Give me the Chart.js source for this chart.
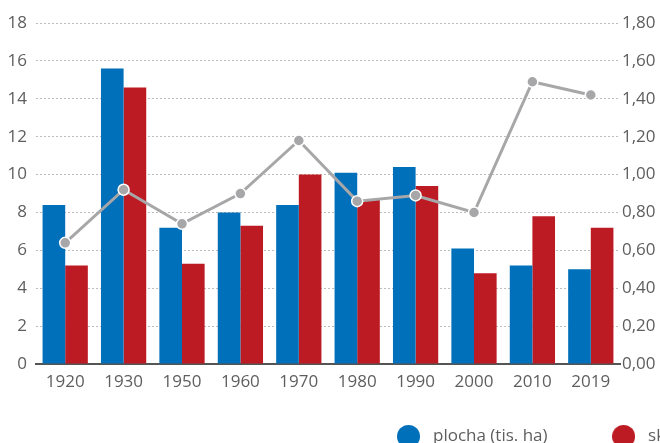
<!DOCTYPE html>
<html>
<head>
<meta charset="utf-8">
<script src="https://cdn.jsdelivr.net/npm/chart.js@4"></script>
<style>
  html, body { margin: 0; padding: 0; background: #fff; overflow: hidden; }
  #wrap { width: 660px; height: 443px; position: relative; }
</style>
</head>
<body>
<div id="wrap"><canvas id="c"></canvas></div>
<script>
const categories = ['1920', '1930', '1950', '1960', '1970', '1980', '1990', '2000', '2010', '2019'];
const plocha = [8.4, 15.6, 7.2, 8.0, 8.4, 10.1, 10.4, 6.1, 5.2, 5.0];
const sklizen = [5.2, 14.6, 5.3, 7.3, 10.0, 8.7, 9.4, 4.8, 7.8, 7.2];
const vynos = [0.64, 0.92, 0.74, 0.90, 1.18, 0.86, 0.89, 0.80, 1.49, 1.42];
const leftTicks = ['0', '2', '4', '6', '8', '10', '12', '14', '16', '18'];
const rightTicks = ['0,00', '0,20', '0,40', '0,60', '0,80', '1,00', '1,20', '1,40', '1,60', '1,80'];
const seriesNames = ['plocha (tis. ha)', 'sklizeň (tis. t)', 'výnos (t/ha)'];
const seriesColors = ['#0070ba', '#bd1b23', '#a7a7a9'];

const FONT = "'Open Sans', 'Noto Sans', sans-serif";
const TEXT = '#5e5e5e';

function dot(color) {
  const c = document.createElement('canvas');
  c.width = 23; c.height = 23;
  const g = c.getContext('2d');
  g.fillStyle = color;
  g.beginPath();
  g.arc(11.5, 11.5, 11.5, 0, Math.PI * 2);
  g.fill();
  return c;
}
const legendDots = seriesColors.map(dot);

const legendPlacer = {
  id: 'legendPlacer',
  beforeDraw(chart) {
    const lg = chart.legend;
    if (!lg) return;
    const pad = lg.options.labels.padding;
    lg.left = 392.5 - pad;
    lg.right = 4000;
    lg.top = 436.5 - 8.5 - pad;
    lg.bottom = 600;
  }
};

new Chart(document.getElementById('c'), {
  data: {
    labels: categories,
    datasets: [
      {
        type: 'bar', label: seriesNames[0], data: plocha, yAxisID: 'y',
        backgroundColor: seriesColors[0], borderWidth: 0, order: 1,
        categoryPercentage: 0.775, barPercentage: 1.0
      },
      {
        type: 'bar', label: seriesNames[1], data: sklizen, yAxisID: 'y',
        backgroundColor: seriesColors[1], borderWidth: 0, order: 1,
        categoryPercentage: 0.775, barPercentage: 1.0
      },
      {
        type: 'line', label: seriesNames[2], data: vynos, yAxisID: 'y1',
        borderColor: seriesColors[2], backgroundColor: seriesColors[2], borderWidth: 3,
        pointRadius: 5.5, pointBackgroundColor: seriesColors[2], pointBorderColor: '#ffffff',
        pointBorderWidth: 1.5, tension: 0, order: 0
      }
    ]
  },
  options: {
    responsive: true,
    maintainAspectRatio: false,
    animation: false,
    layout: { padding: { top: 23, left: 0, right: 0, bottom: 0 } },
    plugins: {
      tooltip: { enabled: false },
      legend: {
        position: 'bottom',
        align: 'start',
        maxHeight: 42.5,
        labels: {
          usePointStyle: true,
          pointStyleWidth: 32,
          boxHeight: 16,
          padding: 60,
          color: TEXT,
          font: { family: FONT, size: 17 },
          sort: (a, b) => a.datasetIndex - b.datasetIndex,
          generateLabels(chart) {
            const items = Chart.defaults.plugins.legend.labels.generateLabels(chart);
            items.forEach(it => { it.pointStyle = legendDots[it.datasetIndex]; });
            return items;
          }
        }
      }
    },
    scales: {
      x: {
        grid: { display: false, drawTicks: false },
        border: { display: true, color: '#555555', width: 2 },
        ticks: { color: TEXT, font: { family: FONT, size: 17 }, padding: 8, maxRotation: 0 }
      },
      y: {
        position: 'left',
        min: 0, max: 18,
        afterFit(s) { s.width = 36; },
        grid: { color: '#bdbdbd', lineWidth: 1, drawTicks: false },
        border: { display: false, dash: [2, 2] },
        ticks: {
          stepSize: 2, padding: 9, color: TEXT, font: { family: FONT, size: 17 },
          callback: (v, i) => leftTicks[i]
        }
      },
      y1: {
        position: 'right',
        min: 0, max: 1.8,
        afterFit(s) { s.width = 40; },
        grid: { display: false, drawTicks: false },
        border: { display: false },
        ticks: {
          stepSize: 0.2, padding: 2, color: TEXT, font: { family: FONT, size: 17 },
          callback: (v, i) => rightTicks[i]
        }
      }
    }
  },
  plugins: [legendPlacer]
});
</script>
</body>
</html>
